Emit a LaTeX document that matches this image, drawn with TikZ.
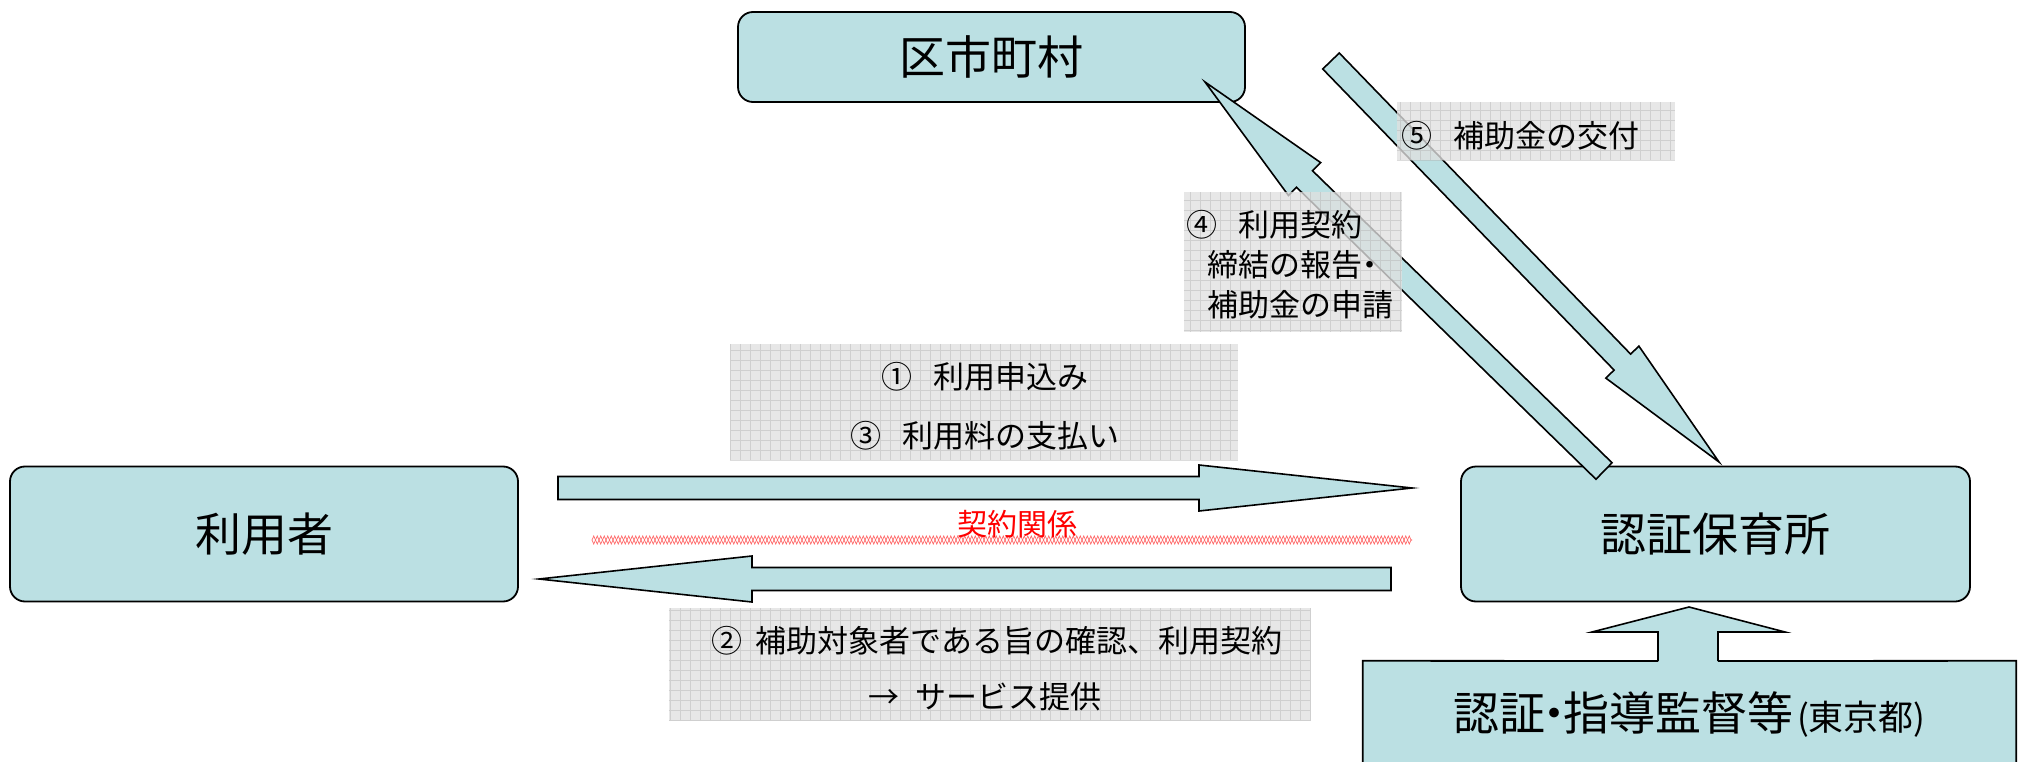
\documentclass[tikz,border=0pt]{standalone}
\usepackage{fontspec}
\setmainfont{Noto Sans CJK JP}
\usetikzlibrary{calc,decorations.pathmorphing}
\definecolor{tealbox}{HTML}{BBE0E3}
\newcommand{\FS}[1]{\fontsize{#1}{#1}\selectfont}
\newcommand{\NDot}{\kern-0.3em・\kern-0.3em}
% block arrow from #1 (tail) to #2 (tip), head length #3
\newcommand{\BlkArrow}[3]{%
  \coordinate (ba-c) at ($(#2)!#3!(#1)$);
  \draw[barrow] ($(#1)!11.5pt!90:(#2)$) -- ($(ba-c)!11.5pt!90:(#2)$) -- ($(ba-c)!23pt!90:(#2)$) -- (#2)
    -- ($(ba-c)!23pt!-90:(#2)$) -- ($(ba-c)!11.5pt!-90:(#2)$) -- ($(#1)!11.5pt!-90:(#2)$) -- cycle;}
\begin{document}
\begin{tikzpicture}[x=1pt,y=-1pt,
  box/.style={draw=black, line width=1.8pt, fill=tealbox, rounded corners=15pt, inner sep=0pt},
  barrow/.style={draw=black, line width=1.6pt, fill=tealbox, line join=miter},
  lab/.style={fill=gray!24, fill opacity=0.78, draw=none, inner sep=0pt},
  gridln/.style={draw=gray!60, line width=0.5pt, opacity=0.45},
  txt/.style={inner sep=0pt, text=black}]
\path[use as bounding box, clip] (0,0) rectangle (2022,762);

% main boxes
\node[box, minimum width=507pt, minimum height=90pt] (ku) at (991.5,57) {\FS{46}区市町村};
\node[box, minimum width=508pt, minimum height=135pt] (user) at (264,534) {\FS{46}利用者};
\node[box, minimum width=509pt, minimum height=135pt] (hoiku) at (1715.5,534) {\FS{46}認証保育所};
\node[fill=tealbox, inner sep=0pt, minimum width=653pt, minimum height=108pt] (tokyo) at (1689.5,715) {};
\node[txt] (tokyot) at (1689.5,714) {\FS{46}認証\NDot 指導監督等{\FS{35}\kern0.1em(東京都)}};

% up arrow merged with bottom box
\coordinate (ua-l) at (1658,661);
\coordinate (ua-r) at (1718,661);
\fill[tealbox] ($(ua-l)+(0,3)$) -- (1658,632) -- (1592,632) -- (1689,607) -- (1785,632) -- (1718,632) -- ($(ua-r)+(0,3)$) -- cycle;
\draw[line width=1.6pt, line join=miter] (ua-l) -- (1658,632) -- (1592,632) -- (1689,607) -- (1785,632) -- (1718,632) -- (ua-r);
\draw[line width=1.8pt] (ua-l) -- (tokyo.north west) -- (tokyo.south west);
\draw[line width=1.8pt] (ua-r) -- (tokyo.north east) -- (tokyo.south east);

% horizontal block arrows
\coordinate (r1) at (558,488); \coordinate (r2) at (1412,488);
\BlkArrow{r1}{r2}{213pt}
\coordinate (l1) at (1391,579); \coordinate (l2) at (539,579);
\BlkArrow{l1}{l2}{213pt}

% diagonal block arrows
\coordinate (a4t) at (1604,471); \coordinate (a4h) at (1205,82);
\BlkArrow{a4t}{a4h}{139pt}
\coordinate (a5t) at (1331,61); \coordinate (a5h) at (1719,462);
\BlkArrow{a5t}{a5h}{139pt}

% contract line
\coordinate (cl1) at (592,540); \coordinate (cl2) at (1412,540);
\draw[red!60, line width=0.7pt, decorate, decoration={zigzag, segment length=7pt, amplitude=4pt}] (cl1) -- (cl2);
\draw[red!60, line width=0.7pt, decorate, decoration={zigzag, segment length=7pt, amplitude=4pt, mirror}] (cl1) -- (cl2);
\node[txt, text=red] (kr) at (1017,524) {\FS{30}契約関係};

% label boxes
\node[lab, minimum width=508pt, minimum height=116pt] (lab13) at (984,402) {};
\draw[gridln, step=10pt] (lab13.north west) grid (lab13.south east);
\node[lab, minimum width=642pt, minimum height=113pt] (lab2) at (990,664.5) {};
\draw[gridln, step=10pt] (lab2.north west) grid (lab2.south east);
\node[lab, minimum width=218pt, minimum height=140pt] (lab4) at (1293,262) {};
\draw[gridln, step=10pt] (lab4.north west) grid (lab4.south east);
\node[lab, minimum width=278pt, minimum height=58pt] (lab5) at (1536,131) {};
\draw[gridln, step=10pt] (lab5.north west) grid (lab5.south east);

% label texts
\node[txt] (t1) at (985,377) {\FS{31}①\hspace{0.7em}利用申込み};
\node[txt] (t3) at (985,436) {\FS{31}③\hspace{0.7em}利用料の支払い};
\node[txt] (t2a) at (997,641) {\FS{31}②\hspace{0.4em}補助対象者である旨の確認、利用契約};
\node[txt] (t2b) at (985,697) {\FS{31}→\hspace{0.5em}サービス提供};
\node[txt, anchor=west] (t4a) at (1186,225) {\FS{31}④\hspace{0.7em}利用契約};
\node[txt, anchor=west] (t4b) at (1207,265) {\FS{31}締結の報告\kern-0.25em・};
\node[txt, anchor=west] (t4c) at (1207,305) {\FS{31}補助金の申請};
\node[txt, anchor=west] (t5) at (1401,136) {\FS{31}⑤\hspace{0.7em}補助金の交付};
\end{tikzpicture}
\end{document}
